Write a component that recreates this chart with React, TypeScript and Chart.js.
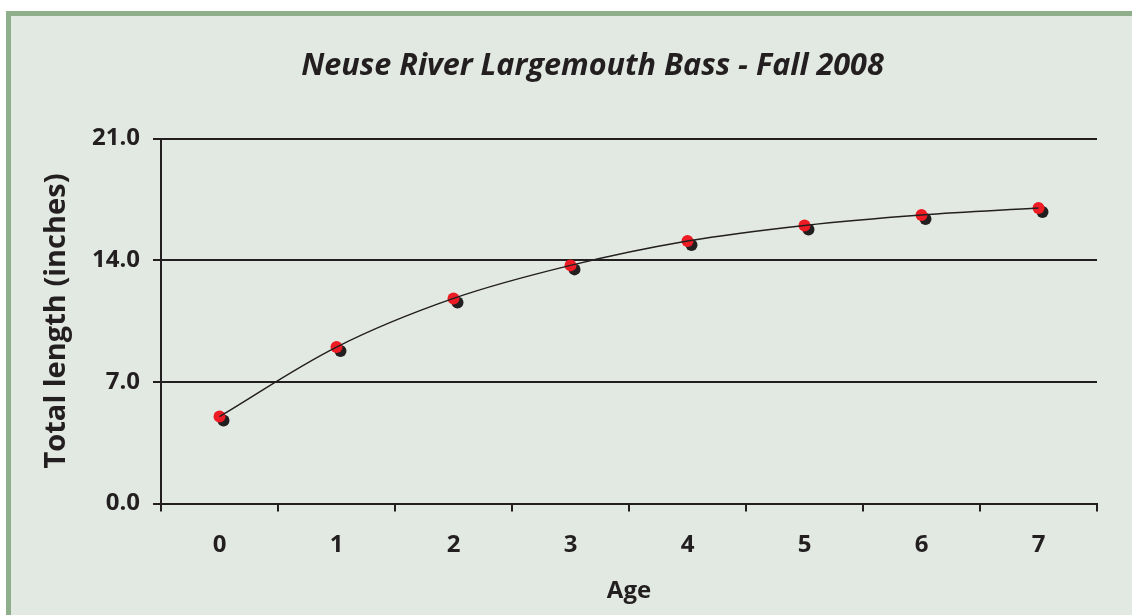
import React, { useEffect, useRef } from "react";
import { Chart, registerables } from "chart.js";

Chart.register(...registerables);

const chartTitle = "Neuse River Largemouth Bass - Fall 2008";
const ages = ["0", "1", "2", "3", "4", "5", "6", "7"];
const lengths = [5.0, 9.0, 11.8, 13.7, 15.1, 16.0, 16.6, 17.0];
const yTicks = [0, 7, 14, 21];
const xAxisTitle = "Age";
const yAxisTitle = "Total length (inches)";

const INK = "#231f20";
const RED = "#ed1c24";
const FONT = "'Open Sans', 'DejaVu Sans', sans-serif";

const W = 1132;
const H = 615;

const titlePlugin = {
  id: "offsetTitle",
  afterDraw(chart: any) {
    const ctx = chart.ctx;
    ctx.save();
    ctx.font = `italic bold 30.6px ${FONT}`;
    ctx.fillStyle = INK;
    ctx.textAlign = "center";
    ctx.textBaseline = "alphabetic";
    ctx.fillText(chartTitle, 592.5, 74.5);
    ctx.restore();
  },
};

const shadowPlugin = {
  id: "markerShadow",
  beforeDatasetDraw(chart: any, args: any) {
    if (args.index !== 1) return;
    const ctx = chart.ctx;
    ctx.save();
    ctx.shadowColor = INK;
    ctx.shadowOffsetX = 4;
    ctx.shadowOffsetY = 4;
    ctx.shadowBlur = 0.5;
  },
  afterDatasetDraw(chart: any, args: any) {
    if (args.index !== 1) return;
    chart.ctx.restore();
  },
};

export default function App() {
  const ref = useRef<HTMLCanvasElement | null>(null);

  useEffect(() => {
    document.body.style.margin = "0";
    const canvas = ref.current!;
    const chart = new Chart(canvas, {
      type: "line",
      data: {
        labels: ages,
        datasets: [
          {
            data: lengths,
            borderColor: INK,
            borderWidth: 1.5,
            tension: 0.35,
            pointRadius: 0,
            pointHoverRadius: 0,
            fill: false,
          },
          {
            data: lengths,
            showLine: false,
            pointRadius: 6,
            pointBackgroundColor: RED,
            pointBorderWidth: 0,
            pointBorderColor: RED,
          },
        ],
      },
      options: {
        responsive: false,
        animation: false,
        events: [],
        layout: { padding: { left: 0, right: W - 1097, top: 138.5, bottom: 0 } },
        plugins: {
          legend: { display: false },
          title: { display: false },
          tooltip: { enabled: false },
        },
        scales: {
          x: {
            type: "category",
            offset: true,
            grid: {
              offset: true,
              drawOnChartArea: false,
              drawTicks: true,
              tickLength: 8,
              tickWidth: 2,
              tickColor: INK,
              color: INK,
              lineWidth: 2,
            },
            border: { display: true, color: INK, width: 2 },
            ticks: {
              color: INK,
              padding: 19,
              font: { family: FONT, size: 24, weight: "bold" },
              maxRotation: 0,
            },
            title: {
              display: true,
              text: xAxisTitle,
              color: INK,
              font: { family: FONT, size: 24, weight: "bold" },
              padding: { top: 0, bottom: 9 },
            },
            afterFit: (scale: any) => {
              scale.height = H - 503.5;
            },
          },
          y: {
            min: 0,
            max: 21,
            afterBuildTicks: (scale: any) => {
              scale.ticks = yTicks.map((v) => ({ value: v }));
            },
            grid: {
              color: INK,
              lineWidth: 2,
              drawTicks: true,
              tickLength: 8,
              tickWidth: 2,
              tickColor: INK,
            },
            border: { display: true, color: INK, width: 2 },
            ticks: {
              color: INK,
              padding: 13,
              font: { family: FONT, size: 24, weight: "bold" },
              callback: (v: any) => Number(v).toFixed(1),
            },
            title: {
              display: true,
              text: yAxisTitle,
              color: INK,
              font: { family: FONT, size: 29, weight: "bold" },
              padding: { top: 39, bottom: 0 },
            },
            afterFit: (scale: any) => {
              scale.width = 161;
            },
          },
        },
      },
      plugins: [titlePlugin, shadowPlugin],
    });
    let alive = true;
    if ((document as any).fonts && (document as any).fonts.ready) {
      (document as any).fonts.ready.then(() => {
        if (alive) chart.update();
      });
    }
    return () => {
      alive = false;
      chart.destroy();
    };
  }, []);

  return (
    <div
      style={{
        position: "fixed",
        left: 0,
        top: 0,
        width: W,
        height: H,
        overflow: "hidden",
        background: "#ffffff",
      }}
    >
      <div
        style={{
          position: "absolute",
          left: 6,
          top: 11,
          width: W - 6,
          height: H - 11,
          boxSizing: "border-box",
          background: "#e2e9e2",
          borderLeft: "5px solid #8fae8b",
          borderTop: "5px solid #8fae8b",
        }}
      />
      <canvas
        ref={ref}
        width={W}
        height={H}
        style={{ position: "absolute", left: 0, top: 0, width: W, height: H }}
      />
    </div>
  );
}
